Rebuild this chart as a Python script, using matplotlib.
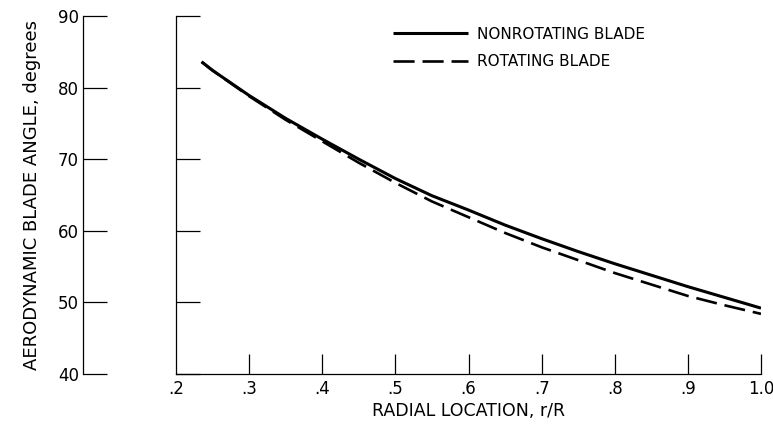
import numpy as np
import matplotlib
matplotlib.use("Agg")
import matplotlib.pyplot as plt

plt.rcParams['font.family'] = ['DejaVu Sans']

# radial stations r/R and aerodynamic blade angle (deg)
r_R = [0.235, 0.25, 0.30, 0.35, 0.40, 0.45, 0.50, 0.55, 0.60,
       0.65, 0.70, 0.75, 0.80, 0.85, 0.90, 0.95, 1.00]
nonrotating = [83.6, 82.4, 78.9, 75.7, 72.8, 70.0, 67.3, 64.9, 62.9,
               60.8, 58.9, 57.1, 55.4, 53.8, 52.2, 50.7, 49.2]
rotating = [83.6, 82.4, 78.8, 75.5, 72.5, 69.5, 66.7, 64.1, 61.9,
            59.7, 57.7, 55.9, 54.1, 52.5, 50.9, 49.6, 48.4]

xticks = [0.2, 0.3, 0.4, 0.5, 0.6, 0.7, 0.8, 0.9, 1.0]
xlabels = ['.2', '.3', '.4', '.5', '.6', '.7', '.8', '.9', '1.0']
yticks = [40, 50, 60, 70, 80, 90]

W, H = 773, 424
fig = plt.figure(figsize=(W / 100, H / 100), dpi=100)
ax = fig.add_axes([176 / W, 50 / H, 585 / W, 358 / H])

ax.plot(r_R, nonrotating, color='black', lw=2.2, solid_capstyle='butt',
        label='NONROTATING BLADE')
ax.plot(r_R, rotating, color='black', lw=1.9, dashes=(8, 3),
        label='ROTATING BLADE')

ax.set_xlim(0.2, 1.0)
ax.set_ylim(40, 90)

for s in ['top', 'right']:
    ax.spines[s].set_visible(False)
ax.spines['left'].set_position(('outward', 93 * 0.72))
for s in ['left', 'bottom']:
    ax.spines[s].set_linewidth(0.9)

ax.set_xticks(xticks)
ax.set_xticklabels(xlabels, fontsize=12)
ax.set_yticks(yticks)
ax.set_yticklabels([str(v) for v in yticks], fontsize=12)
ax.tick_params(axis='x', direction='in', length=14.4, width=0.9, pad=4)
ax.tick_params(axis='y', direction='in', length=17.3, width=0.9, pad=3)
# no tick mark at .2, the vertical line stands there
ax.xaxis.get_major_ticks()[0].tick1line.set_visible(False)

# inner reference line at r/R = .2 with its own ticks
sec = ax.secondary_yaxis('left')
sec.spines['left'].set_linewidth(0.9)
sec.set_yticks(yticks)
sec.tick_params(direction='in', length=17.3, width=0.9, labelleft=False)

ax.set_xlabel('RADIAL LOCATION, r/R', fontsize=12.5, labelpad=3)
ax.set_ylabel('AERODYNAMIC BLADE ANGLE, degrees', fontsize=13, labelpad=12)

ax.legend(frameon=False, loc='upper left', bbox_to_anchor=(0.371, 0.97),
          borderpad=0, borderaxespad=0, handlelength=4.9, handletextpad=0.6,
          labelspacing=0.8, fontsize=11)

fig.savefig('out.png', dpi=100, facecolor='white')
